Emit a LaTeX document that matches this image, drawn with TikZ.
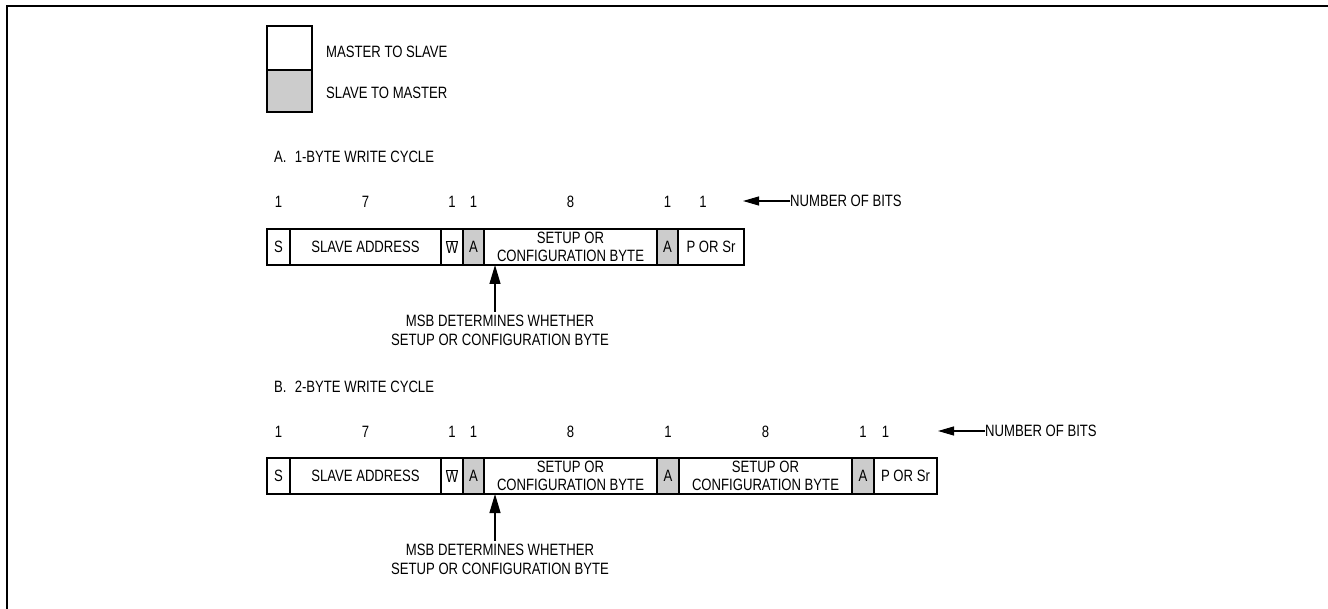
\documentclass[tikz,border=0pt]{standalone}
\usepackage{fontspec}
\setmainfont{Liberation Sans}[FakeStretch=0.8]
\usetikzlibrary{positioning,arrows.meta}

\begin{document}
\begin{tikzpicture}[x=1pt, y=-1pt,
    font=\fontsize{16.4}{17.5}\selectfont,
    field/.style={rectangle, draw, line width=1.3pt, minimum height=36pt,
    inner sep=0pt, outer sep=0pt, align=center},
    ack/.style={field, fill=black!20},
    note/.style={inner sep=0pt, anchor=west},
    bits/.style={inner sep=0pt},
    msb/.style={align=center, font=\fontsize{16.4}{19}\selectfont},
    bitarrow/.style={line width=1.1pt, -{Triangle[length=16pt,width=9pt]}},
    msbarrow/.style={line width=1.2pt, -{Triangle[length=19pt,width=11pt]}}
    ]

\useasboundingbox (0,0) rectangle (1328,609);
\draw[line width=2.6pt] (7,609) -- (7,6) -- (1328,6);

% legend
\node[field, minimum width=45pt, minimum height=44pt, anchor=north west] (keyM) at (267,26) {};
\node[ack, minimum width=45pt, minimum height=42pt, below=0pt of keyM] (keyS) {};
\node[note] (keyMtxt) at (326,52) {MASTER TO SLAVE};
\node[note] (keyStxt) at (326,93) {SLAVE TO MASTER};

% A. 1-byte write cycle
\node[note] (titleA) at (274,157) {A.\enspace 1-BYTE WRITE CYCLE};
\coordinate (aRow) at (0,202);

\node[field, minimum width=23pt, anchor=north west] (aS) at (267,229) {S};
\node[field, minimum width=151pt, right=0pt of aS] (aAddr) {SLAVE ADDRESS};
\node[field, minimum width=22pt, right=0pt of aAddr] (aW) {$\overline{\mbox{W}}$};
\node[ack, minimum width=21pt, right=0pt of aW] (aAck1) {A};
\node[field, minimum width=173pt, right=0pt of aAck1] (aCfg) {SETUP OR\\CONFIGURATION BYTE};
\node[ack, minimum width=21pt, right=0pt of aCfg] (aAck2) {A};
\node[field, minimum width=66pt, right=0pt of aAck2] (aStop) {P OR Sr};

\node[bits] (aN1) at (aS |- aRow) {1};
\node[bits] (aN2) at (aAddr |- aRow) {7};
\node[bits] (aN3) at (aW |- aRow) {1};
\node[bits] (aN4) at (aAck1 |- aRow) {1};
\node[bits] (aN5) at (aCfg |- aRow) {8};
\node[bits] (aN6) at (aAck2 |- aRow) {1};
\node[bits] (aN7) at ([xshift=-8pt]aStop |- aRow) {1};

\node[note] (aNum) at (790,201) {NUMBER OF BITS};
\coordinate (aTip) at (743,201);
\draw[bitarrow] (aNum.west) -- (aTip);

\coordinate (aMsb) at ([xshift=11pt]aCfg.south west);
\node[msb] (aNote) at (500,330.5) {MSB DETERMINES WHETHER\\SETUP OR CONFIGURATION BYTE};
\draw[msbarrow] (aNote.north -| aMsb) -- (aMsb);

% B. 2-byte write cycle
\node[note] (titleB) at (274,387) {B.\enspace 2-BYTE WRITE CYCLE};
\coordinate (bRow) at (0,432);

\node[field, minimum width=23pt, anchor=north west] (bS) at (267,458) {S};
\node[field, minimum width=151pt, right=0pt of bS] (bAddr) {SLAVE ADDRESS};
\node[field, minimum width=22pt, right=0pt of bAddr] (bW) {$\overline{\mbox{W}}$};
\node[ack, minimum width=21pt, right=0pt of bW] (bAck1) {A};
\node[field, minimum width=173pt, right=0pt of bAck1] (bCfg1) {SETUP OR\\CONFIGURATION BYTE};
\node[ack, minimum width=22pt, right=0pt of bCfg1] (bAck2) {A};
\node[field, minimum width=173pt, right=0pt of bAck2] (bCfg2) {SETUP OR\\CONFIGURATION BYTE};
\node[ack, minimum width=22pt, right=0pt of bCfg2] (bAck3) {A};
\node[field, minimum width=63pt, right=0pt of bAck3] (bStop) {P OR Sr};

\node[bits] (bN1) at (bS |- bRow) {1};
\node[bits] (bN2) at (bAddr |- bRow) {7};
\node[bits] (bN3) at (bW |- bRow) {1};
\node[bits] (bN4) at (bAck1 |- bRow) {1};
\node[bits] (bN5) at (bCfg1 |- bRow) {8};
\node[bits] (bN6) at (bAck2 |- bRow) {1};
\node[bits] (bN7) at (bCfg2 |- bRow) {8};
\node[bits] (bN8) at (bAck3 |- bRow) {1};
\node[bits] (bN9) at ([xshift=-20pt]bStop |- bRow) {1};

\node[note] (bNum) at (985,431) {NUMBER OF BITS};
\coordinate (bTip) at (938,431);
\draw[bitarrow] (bNum.west) -- (bTip);

\coordinate (bMsb) at ([xshift=11pt]bCfg1.south west);
\node[msb] (bNote) at (500,559.5) {MSB DETERMINES WHETHER\\SETUP OR CONFIGURATION BYTE};
\draw[msbarrow] (bNote.north -| bMsb) -- (bMsb);
\end{tikzpicture}
\end{document}
